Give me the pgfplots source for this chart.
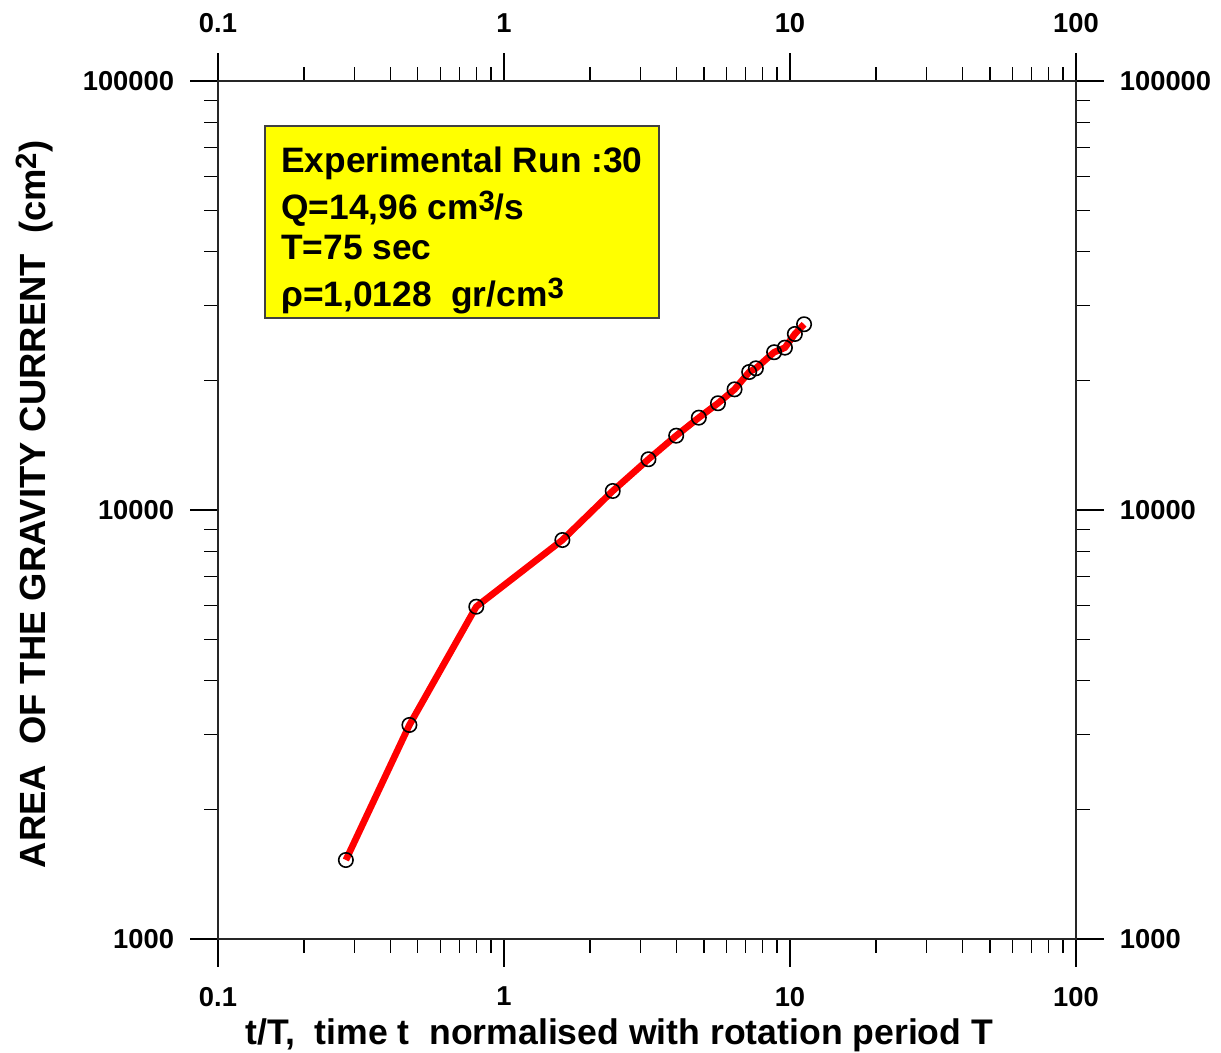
\documentclass[border=0pt]{standalone}
\usepackage{pgfplots}
\usepackage{pgfplotstable}
\pgfplotsset{compat=1.18}
\usepackage{fontspec}
\setmainfont{Liberation Sans}
\definecolor{boxyellow}{RGB}{255,255,0}

% area of the gravity current vs. normalised time t/T
\pgfplotstableread{
t      A
0.28   1528
0.467  3154
0.80   5951
1.60   8511
2.40   11074
3.20   13130
4.00   14900
4.80   16415
5.60   17734
6.40   19110
7.20   20970
7.60   21390
8.80   23320
9.60   23900
10.40  25720
11.20  27100
}\arearun

\newcommand\upidx[1]{\raisebox{0.24em}{\fontsize{22}{22}\selectfont #1}}

\pgfplotsset{
  every axis/.append style={
    at={(0,0)}, anchor=south west,
    scale only axis, width=643.5pt, height=643.5pt,
    xmin=0.1, xmax=100, ymin=1000, ymax=100000,
    xtick={0.1,1,10,100}, xticklabels={0.1,1,10,100},
    ytick={1000,10000,100000}, yticklabels={1000,10000,100000},
    minor xtick={0.2,0.3,0.4,0.5,0.6,0.7,0.8,0.9,2,3,4,5,6,7,8,9,20,30,40,50,60,70,80,90},
    minor ytick={2000,3000,4000,5000,6000,7000,8000,9000,20000,30000,40000,50000,60000,70000,80000,90000},
    tick align=outside,
    major tick length=21pt, minor tick length=10.5pt,
    every tick/.style={black, line width=0.9pt},
    axis line style={black!85, line width=1pt},
    tick label style={font=\fontsize{20.5}{24}\selectfont\bfseries},
    xticklabel shift=11.5pt, yticklabel shift=8.5pt,
  }
}

\begin{document}
\begin{tikzpicture}
\path[use as bounding box] (-163.5pt,-85.5pt) rectangle (752.25pt,704.25pt);

\begin{loglogaxis}[
  xticklabel pos=left, yticklabel pos=left,
  xlabel={t/T,\ \ time t\ \ normalised with rotation period T},
  xlabel style={at={(axis description cs:0.0265,-0.1235)}, anchor=base west,
    font=\fontsize{26.7}{32}\selectfont\bfseries},
  ylabel={AREA\ \ OF THE GRAVITY CURRENT\ \ (cm\upidx{2})},
  ylabel style={at={(axis description cs:-0.2016,0.077)}, anchor=base west,
    font=\fontsize{27.3}{32}\selectfont\bfseries},
]
\addplot[red, line width=5pt, line join=round,
  mark=o, mark size=5.4pt,
  mark options={black, line width=1.2pt, solid, fill=none}] table[x=t, y=A] {\arearun};

\draw[fill=boxyellow, draw=black!75, line width=0.9pt]
  (axis description cs:0.0548,0.7238) rectangle (axis description cs:0.514,0.9476);
\node[anchor=base west, inner sep=0pt, font=\fontsize{26.5}{32}\selectfont\bfseries]
  at (axis description cs:0.0734,0.8928) {Experimental Run :30};
\node[anchor=base west, inner sep=0pt, font=\fontsize{26.5}{32}\selectfont\bfseries]
  at (axis description cs:0.0734,0.8380) {Q=14,96 cm\upidx{3}/s};
\node[anchor=base west, inner sep=0pt, font=\fontsize{26.5}{32}\selectfont\bfseries]
  at (axis description cs:0.0734,0.7925) {T=75 sec};
\node[anchor=base west, inner sep=0pt, font=\fontsize{26.5}{32}\selectfont\bfseries]
  at (axis description cs:0.0734,0.7366) {ρ=1,0128\ \ gr/cm\upidx{3}};
\end{loglogaxis}

% second frame carrying the top and right tick labels
\begin{loglogaxis}[xticklabel pos=right, yticklabel pos=right]
\addplot[draw=none, mark=none] coordinates {(1,10000)};
\end{loglogaxis}
\end{tikzpicture}
\end{document}
